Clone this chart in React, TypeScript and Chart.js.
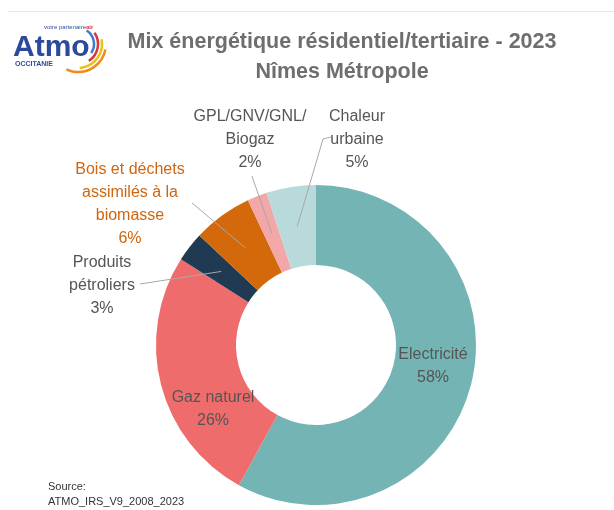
import React, { useEffect, useRef } from "react";
import { Chart, registerables } from "chart.js";

Chart.register(...registerables);

const categories = [
  "Electricité",
  "Gaz naturel",
  "Produits pétroliers",
  "Bois et déchets assimilés à la biomasse",
  "GPL/GNV/GNL/Biogaz",
  "Chaleur urbaine",
];
const shares = [58, 26, 3, 6, 2, 5];
const colors = ["#74B4B5", "#EF6C6C", "#1F3A52", "#D3690B", "#F3A7A9", "#B8DADB"];
const labelLines = [
  ["Electricité", "58%"],
  ["Gaz naturel", "26%"],
  ["Produits", "pétroliers", "3%"],
  ["Bois et déchets", "assimilés à la", "biomasse", "6%"],
  ["GPL/GNV/GNL/", "Biogaz", "2%"],
  ["Chaleur", "urbaine", "5%"],
];
const title = ["Mix énergétique résidentiel/tertiaire - 2023", "Nîmes Métropole"];
const sourceLines = ["Source:", "ATMO_IRS_V9_2008_2023"];

// label layout (text anchor = centre of first line)
const labelPos: [number, number][] = [
  [433, 355],
  [213, 398],
  [102, 263],
  [130, 170],
  [250, 117],
  [357, 117],
];
const labelColor = ["#555", "#555", "#555", "#D0650F", "#555", "#555"];
// leader line start points (null = no leader)
const leaderStart: ([number, number][] | null)[] = [
  null,
  null,
  [[140, 284]],
  [[192, 203]],
  [[252, 176]],
  [[331, 137], [323, 139]],
];

const overlay = {
  id: "overlay",
  afterDraw(chart: any) {
    const ctx: CanvasRenderingContext2D = chart.ctx;
    ctx.save();
    // faint top rule
    ctx.strokeStyle = "#e8e8e8";
    ctx.lineWidth = 1;
    ctx.beginPath();
    ctx.moveTo(8, 11.5);
    ctx.lineTo(614, 11.5);
    ctx.stroke();

    // logo
    ctx.textBaseline = "alphabetic";
    ctx.textAlign = "left";
    ctx.fillStyle = "#2B4A9B";
    ctx.font = "bold 30px 'Liberation Sans', Arial, sans-serif";
    ctx.fillText("Atmo", 13, 56);
    ctx.font = "bold 7px 'Liberation Sans', Arial, sans-serif";
    ctx.fillText("OCCITANIE", 15, 66);
    ctx.font = "6px 'Liberation Sans', Arial, sans-serif";
    ctx.fillStyle = "#2B4A9B";
    ctx.fillText("votre partenaire", 44, 29);
    ctx.fillStyle = "#D23A3A";
    ctx.font = "bold 6px 'Liberation Sans', Arial, sans-serif";
    ctx.fillText("air", 86, 29);
    const arcs: [number, string, number, number][] = [
      [16, "#3B7BD4", -1.0, 0.6],
      [20, "#D83A3A", -0.6, 1.0],
      [24, "#E8C21E", -0.2, 1.5],
      [28, "#EE8A1E", 0.2, 2.0],
    ];
    for (const [r, c, a0, a1] of arcs) {
      ctx.strokeStyle = c;
      ctx.lineWidth = 2.5;
      ctx.beginPath();
      ctx.arc(78, 44, r, a0, a1);
      ctx.stroke();
    }

    // title
    ctx.textAlign = "center";
    ctx.textBaseline = "middle";
    ctx.fillStyle = "#6E6E6E";
    ctx.font = "bold 21.5px 'Liberation Sans', Arial, sans-serif";
    ctx.fillText(title[0], 342, 42);
    ctx.fillText(title[1], 342, 72);

    // leaders + labels
    const meta = chart.getDatasetMeta(0);
    ctx.strokeStyle = "#A8A8A8";
    ctx.lineWidth = 1;
    meta.data.forEach((arc: any, i: number) => {
      const pts = leaderStart[i];
      if (!pts) return;
      const p = arc.tooltipPosition();
      ctx.beginPath();
      ctx.moveTo(pts[0][0], pts[0][1]);
      for (let k = 1; k < pts.length; k++) ctx.lineTo(pts[k][0], pts[k][1]);
      ctx.lineTo(p.x, p.y);
      ctx.stroke();
    });
    ctx.font = "16px 'Liberation Sans', Arial, sans-serif";
    labelLines.forEach((lines, i) => {
      ctx.fillStyle = labelColor[i];
      const [x, y] = labelPos[i];
      lines.forEach((t, k) => ctx.fillText(t, x, y + k * 23));
    });

    // source
    ctx.textAlign = "left";
    ctx.fillStyle = "#333";
    ctx.font = "11px 'Liberation Sans', Arial, sans-serif";
    ctx.fillText(sourceLines[0], 48, 487);
    ctx.fillText(sourceLines[1], 48, 502);
    ctx.restore();
  },
};

export default function App() {
  const ref = useRef<HTMLCanvasElement>(null);
  useEffect(() => {
    const chart = new Chart(ref.current!, {
      type: "doughnut",
      data: {
        labels: categories,
        datasets: [
          {
            data: shares,
            backgroundColor: colors,
            borderWidth: 0,
          },
        ],
      },
      options: {
        responsive: false,
        animation: false,
        cutout: "50%",
        layout: { padding: { left: 156, right: 138, top: 185, bottom: 5 } },
        plugins: {
          legend: { display: false },
          tooltip: { enabled: false },
          title: { display: false },
        },
      },
      plugins: [overlay],
    });
    return () => chart.destroy();
  }, []);
  return (
    <div style={{ position: "absolute", left: 0, top: 0, width: 614, height: 510, background: "#fff" }}>
      <canvas ref={ref} width={614} height={510} style={{ display: "block" }} />
    </div>
  );
}
